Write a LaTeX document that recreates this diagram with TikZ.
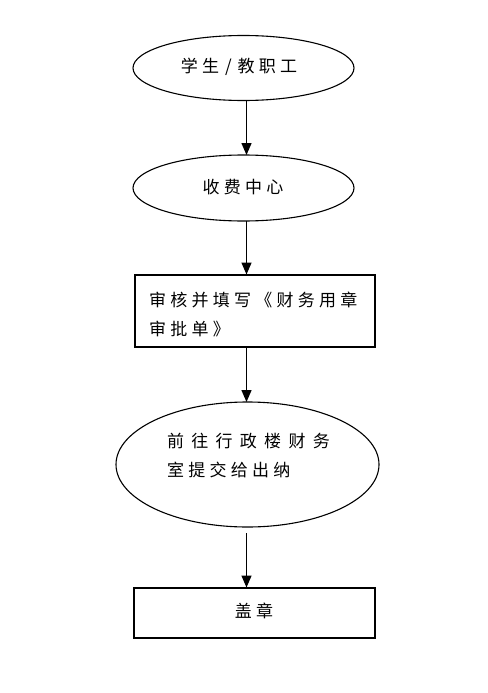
\documentclass[tikz,border=0pt]{standalone}
\usepackage{fontspec}
\newfontfamily\cjk[LetterSpace=25]{Noto Sans CJK SC}
\usetikzlibrary{shapes.geometric,arrows.meta}

\begin{document}
\begin{tikzpicture}[x=1pt,y=-1pt,
  every node/.style={font=\cjk\fontsize{17pt}{29pt}\selectfont, inner sep=0pt, outer sep=0pt},
  oval/.style={ellipse, draw, line width=1.1pt},
  proc/.style={rectangle, draw, line width=2pt},
  arr/.style={line width=1.4pt, -{Triangle[width=10pt,length=12pt]}}]
\useasboundingbox (0,0) rectangle (487,693);
\fill[white] (0,0) rectangle (487,693);

\coordinate (ax) at (246.5,0);

\node[oval, minimum width=221pt, minimum height=65pt] (who) at (243.5,68) {};
\node (whotxt) at (239,67) {学生\hspace{6pt}/\hspace{6pt}教职工};

\node[oval, minimum width=221pt, minimum height=66pt] (fee) at (243.5,188) {};
\node (feetxt) at (243,187) {收费中心};

\node[proc, minimum width=240pt, minimum height=72pt] (check) at (254.5,310.5) {};
\node[anchor=west, align=left] (checktxt) at (149,314) {审核并填写《财务用章\\审批单》};

\node[oval, minimum width=263pt, minimum height=125pt] (go) at (247.5,464.5) {};
\node[anchor=west, align=left] (gotxt) at (167,456) {{\addfontfeature{LetterSpace=43}前往行政楼财务}\\室提交给出纳};

\node[proc, minimum width=241pt, minimum height=50pt] (seal) at (254.5,612.5) {};
\node (sealtxt) at (254,611) {盖章};

\draw[arr] (who.south -| ax) -- (fee.north -| ax);
\draw[arr] (fee.south -| ax) -- (check.north -| ax);
\draw[arr] (check.south -| ax) -- (go.north -| ax);
\draw[arr, shorten <=6pt] (go.south -| ax) -- (seal.north -| ax);
\end{tikzpicture}
\end{document}
